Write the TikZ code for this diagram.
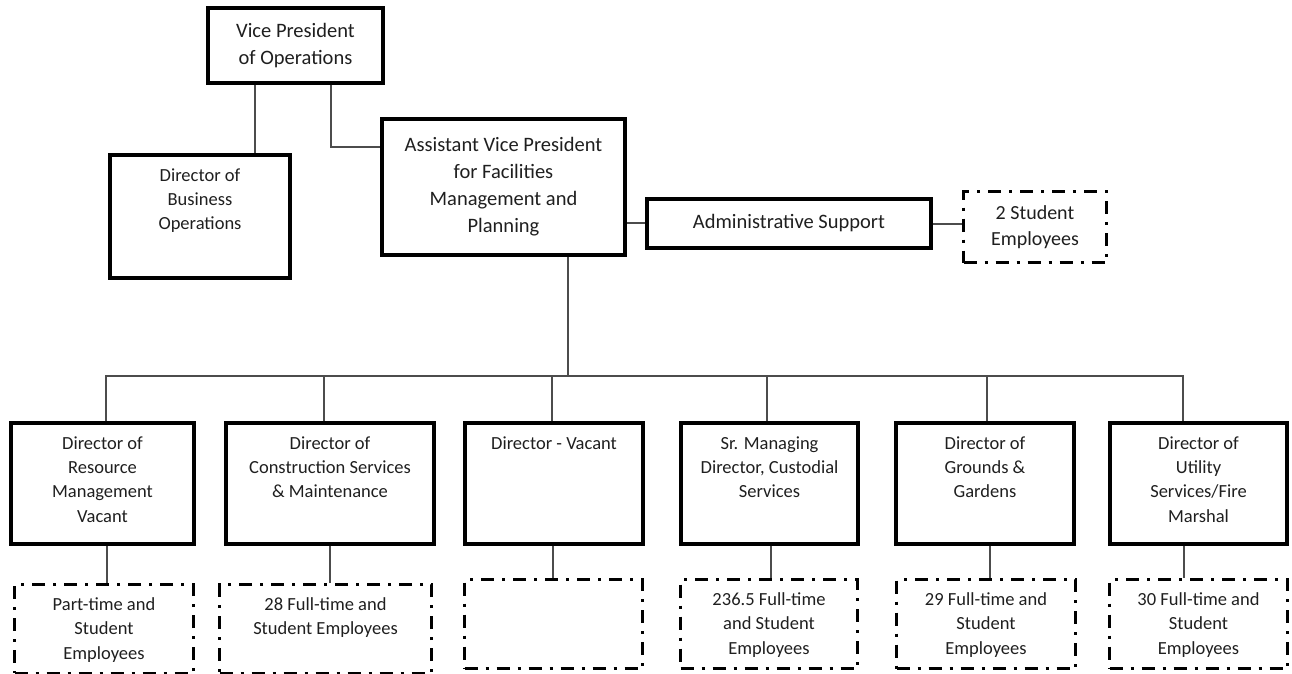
\documentclass[tikz,border=0pt]{standalone}
\usepackage{fontspec}
\setmainfont{Carlito}
\usepackage{tikz}
\definecolor{qqqqqq}{rgb}{0.12,0.12,0.12}
\definecolor{wwwwww}{rgb}{0.3,0.3,0.3}
\newcommand{\toptext}[3]{\parbox[c][\dimexpr#2pt-18pt\relax][t]{\dimexpr#1pt-8pt\relax}{\centering\strut #3}}
\begin{document}
\begin{tikzpicture}[line cap=butt,line join=miter,x=1pt,y=-1pt,
solidbox/.style={draw=black,line width=3.5pt,inner sep=0pt,text=qqqqqq},
dashbox/.style={draw=black,line width=3pt,inner sep=0pt,text=qqqqqq,dash pattern=on 13pt off 8pt on 3pt off 8pt},
wire/.style={draw=wwwwww,line width=1.1pt},
bigtext/.style={font=\fontsize{20.5}{27}\selectfont,align=center},
smalltext/.style={font=\fontsize{18.5}{24.4}\selectfont}]
\useasboundingbox (0,0) rectangle (1292,674);
% upper part
\node[solidbox,bigtext,minimum width=175,minimum height=75] (vp) at (295.5,45.5) {Vice President\\of Operations};
\node[solidbox,smalltext,minimum width=180,minimum height=123] (dbo) at (200,216.5) {\toptext{180}{123}{Director of\\Business\\Operations}};
\node[solidbox,bigtext,minimum width=243,minimum height=136] (avp) at (503.5,187) {Assistant Vice President\\for Facilities\\Management and\\Planning};
\node[solidbox,bigtext,minimum width=284,minimum height=49] (adm) at (789,223.5) {Administrative Support};
\node[dashbox,font=\fontsize{20}{26}\selectfont,align=center,minimum width=143,minimum height=71] (stu) at (1035,227) {2 Student\\Employees};
% directors
\node[solidbox,smalltext,minimum width=183,minimum height=121] (res) at (102.5,483.5) {\toptext{183}{121}{Director of\\Resource\\Management\\Vacant}};
\node[solidbox,smalltext,minimum width=208,minimum height=121] (con) at (330,483.5) {\toptext{208}{121}{Director of\\Construction Services\\\& Maintenance}};
\node[solidbox,smalltext,minimum width=178,minimum height=121] (vac) at (554,483.5) {\toptext{178}{121}{Director - Vacant}};
\node[solidbox,smalltext,minimum width=177,minimum height=121] (cus) at (769.5,483.5) {\toptext{177}{121}{Sr. Managing\\Director, Custodial\\Services}};
\node[solidbox,smalltext,minimum width=178,minimum height=121] (grd) at (985,483.5) {\toptext{178}{121}{Director of\\Grounds \&\\Gardens}};
\node[solidbox,smalltext,minimum width=177,minimum height=121] (utl) at (1198.5,483.5) {\toptext{177}{121}{Director of\\Utility\\Services/Fire\\Marshal}};
% employees
\node[dashbox,smalltext,minimum width=179,minimum height=88.5] (resemp) at (104,628.75) {\toptext{179}{88.5}{Part-time and\\Student\\Employees}};
\node[dashbox,smalltext,minimum width=212,minimum height=88.5] (conemp) at (325.5,628.75) {\toptext{212}{88.5}{28 Full-time and\\Student Employees}};
\node[dashbox,smalltext,minimum width=178,minimum height=89] (vacemp) at (553.5,624) {};
\node[dashbox,smalltext,minimum width=177,minimum height=89] (cusemp) at (769,624) {\toptext{177}{89}{236.5 Full-time\\and Student\\Employees}};
\node[dashbox,smalltext,minimum width=179,minimum height=89] (grdemp) at (986,624) {\toptext{179}{89}{29 Full-time and\\Student\\Employees}};
\node[dashbox,smalltext,minimum width=178,minimum height=89] (utlemp) at (1198.5,624) {\toptext{178}{89}{30 Full-time and\\Student\\Employees}};
% lines
\draw[wire] (vp.south -| 255,0) -- (dbo.north -| 255,0);
\draw[wire] (vp.south -| 331,0) |- (avp.west |- 0,147);
\draw[wire] (avp.east |- 0,223) -- (adm.west |- 0,223);
\draw[wire] (adm.east |- 0,224) -- (stu.west |- 0,224);
\coordinate (bus) at (568,376);
\draw[wire] (avp.south -| bus) -- (bus);
\draw[wire] (res.north -| 106,0) |- (bus) -| (utl.north -| 1183,0);
\foreach \d/\x in {con/324,vac/552,cus/767,grd/987}
  \draw[wire] (\d.north -| \x,0) -- (bus -| \x,0);
\foreach \d/\s/\x in {res/resemp/107,con/conemp/330,vac/vacemp/553,cus/cusemp/771,grd/grdemp/990,utl/utlemp/1184}
  \draw[wire] (\d.south -| \x,0) -- (\s.north -| \x,0);
\end{tikzpicture}
\end{document}
